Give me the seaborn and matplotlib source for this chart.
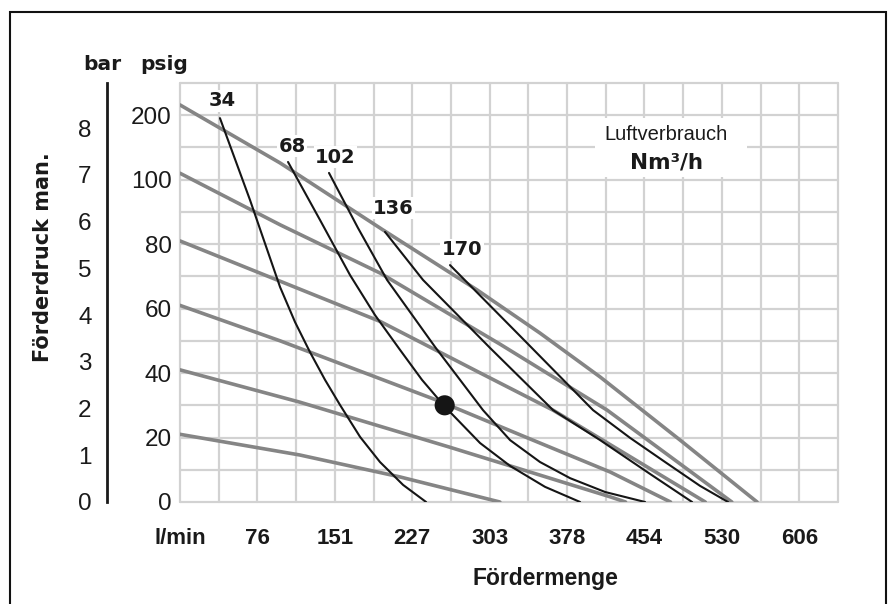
import matplotlib
matplotlib.use("Agg")
import matplotlib.pyplot as plt
import matplotlib.patches as mpatches
from matplotlib.ticker import FixedLocator
import seaborn as sns

# l/min per grid column, psi per grid row = 10
COL = 37.875
N_COLS = 17
N_ROWS = 13

x_tick_labels = ["l/min", "76", "151", "227", "303", "378", "454", "530", "606"]
psig_ticks = [0, 20, 40, 60, 80, 100, 120]
psig_labels = ["0", "20", "40", "60", "80", "100", "200"]
bar_ticks = [0, 1, 2, 3, 4, 5, 6, 7, 8]

# air inlet pressure curves (gray), x in l/min, y in psi
g120_x = [0, 97.9, 198.7, 290.7, 352.3, 411.1, 489.4, 564.7]
g120_y = [123.2, 105.2, 84.4, 65.8, 52.4, 38.8, 19.2, 0]
g100_x = [0, 98, 196, 313, 418, 540]
g100_y = [102, 86, 71, 49, 28.5, 0]
g80_x = [0, 98, 196, 294, 365, 514]
g80_y = [81, 68.5, 56, 40, 28.5, 0]
g60_x = [0, 98, 252, 343, 421, 480]
g60_y = [61, 50, 31.5, 19.5, 9.3, 0]
g40_x = [0, 117, 264, 421, 436]
g40_y = [41, 31, 17, 1.6, 0]
g20_x = [0, 117, 215, 313]
g20_y = [21, 14.6, 7.8, 0]

# air consumption curves (black), Nm3/h
b34_x = [39.1, 68.5, 97.9, 112.6, 127.2, 141.9, 156.6, 176.2, 195.7, 218.3, 240.8]
b34_y = [119.1, 93.7, 66.7, 55.8, 46.5, 37.9, 30.1, 20.2, 12.4, 5.3, 0]
b68_x = [105.7, 137.0, 166.4, 190.8, 215.3, 236.8, 259.4, 293.6, 323.0, 357.2, 391.5]
b68_y = [105.5, 87.5, 70.4, 58.0, 47.2, 37.9, 29.5, 18.3, 11.2, 4.7, 0]
b102_x = [145.8, 174.2, 202.6, 249.6, 296.5, 323.0, 352.3, 381.7, 416.0, 455.1]
b102_y = [102.1, 85.0, 68.9, 48.1, 28.5, 19.2, 12.4, 7.4, 3.1, 0]
b136_x = [200.6, 237.8, 303.4, 365.1, 411.1, 460.0, 501.1]
b136_y = [83.8, 68.9, 47.8, 28.5, 19.2, 8.7, 0]
b170_x = [264.2, 332.8, 404.2, 440.4, 474.7, 508.9, 536.3]
b170_y = [73.5, 51.5, 28.5, 19.9, 12.4, 5.0, 0]

curve_labels = ["34", "68", "102", "136", "170"]
label_x = [41, 110, 152, 209, 276]
label_y = [124.5, 110.4, 107, 91.2, 78.2]

point_x = [259]
point_y = [30]

sns.set_theme(style="white")
plt.rcParams["font.family"] = ["Liberation Sans", "DejaVu Sans"]
HEAVY = ["DejaVu Sans"]
INK = "#1a1a1a"

W, H = 888, 604
fig = plt.figure(figsize=(W / 100, H / 100), dpi=100)
ax = fig.add_axes([180 / W, 1 - 502 / H, 658 / W, 419 / H])

# grid (drawn unclipped so the outer lines keep full width)
for i in range(N_COLS + 1):
    ax.axvline(i * COL, color="#d2d2d2", lw=1.6, zorder=0, clip_on=False)
for j in range(N_ROWS + 1):
    ax.axhline(j * 10, color="#d2d2d2", lw=1.6, zorder=0, clip_on=False)

gray = "#858585"
for gx, gy in [(g120_x, g120_y), (g100_x, g100_y), (g80_x, g80_y),
               (g60_x, g60_y), (g40_x, g40_y), (g20_x, g20_y)]:
    sns.lineplot(x=gx, y=gy, ax=ax, color=gray, lw=2.6, sort=False,
                 estimator=None, zorder=3)
for bx, by in [(b34_x, b34_y), (b68_x, b68_y), (b102_x, b102_y),
               (b136_x, b136_y), (b170_x, b170_y)]:
    sns.lineplot(x=bx, y=by, ax=ax, color="#151515", lw=1.5, sort=False,
                 estimator=None, zorder=4)
sns.scatterplot(x=point_x, y=point_y, ax=ax, color="#151515", s=210,
                edgecolor="none", zorder=6)

for t, lx, ly in zip(curve_labels, label_x, label_y):
    ax.text(lx, ly, t, ha="center", va="center", fontsize=14, family=HEAVY,
            fontweight="bold", color=INK, zorder=7,
            bbox=dict(facecolor="white", edgecolor="none", pad=1.0))

# white box behind the air consumption caption
ax.add_patch(mpatches.Rectangle((415 / 658, (502 - 177) / 419), 152 / 658, 59 / 419,
                                transform=ax.transAxes, facecolor="white",
                                edgecolor="none", zorder=2))
ax.text(486 / 658, (502 - 134) / 419, "Luftverbrauch", transform=ax.transAxes,
        ha="center", va="center", fontsize=14.5, color=INK, zorder=7)
ax.text(486 / 658, (502 - 162) / 419, "Nm³/h", transform=ax.transAxes,
        ha="center", va="center", fontsize=15.5, fontweight="bold",
        family=HEAVY, color=INK, zorder=7)

ax.set_xlim(0, N_COLS * COL)
ax.set_ylim(0, N_ROWS * 10)
ax.xaxis.set_major_locator(FixedLocator([i * 2 * COL for i in range(9)]))
ax.set_xticklabels(x_tick_labels, fontsize=16, fontweight="bold", color=INK)
ax.yaxis.set_major_locator(FixedLocator(psig_ticks))
ax.set_yticklabels(psig_labels, fontsize=17.5, color=INK)
ax.tick_params(axis="both", which="both", length=0)
ax.tick_params(axis="x", pad=18.5)
ax.tick_params(axis="y", pad=6)
ax.grid(False)
for s in ax.spines.values():
    s.set_visible(False)
ax.set_xlabel("")
ax.set_ylabel("")

# bar scale on separate spine
bx_ax = fig.add_axes([107 / W, 1 - 502 / H, 0.0001, 419 / H])
bx_ax.set_ylim(0, N_ROWS * 10 / 14.5)
bx_ax.set_yticks(bar_ticks)
bx_ax.set_yticklabels([str(b) for b in bar_ticks], fontsize=17.5, color=INK)
bx_ax.set_xticks([])
bx_ax.tick_params(axis="y", length=7, width=1.8, color=INK, pad=4)
for k, s in bx_ax.spines.items():
    s.set_visible(k == "left")
bx_ax.spines["left"].set_linewidth(2)
bx_ax.spines["left"].set_color(INK)
bx_ax.patch.set_visible(False)

fig.text(102 / W, 1 - 64 / H, "bar", ha="center", va="center", fontsize=14.5,
         fontweight="bold", family=HEAVY, color=INK)
fig.text(164 / W, 1 - 64 / H, "psig", ha="center", va="center", fontsize=14.5,
         fontweight="bold", family=HEAVY, color=INK)
fig.text(43 / W, 1 - 257 / H, "Förderdruck man.", rotation=90, ha="center",
         va="center", fontsize=15, fontweight="bold", family=HEAVY, color=INK)
fig.text(545 / W, 1 - 578 / H, "Fördermenge", ha="center", va="center",
         fontsize=16.5, fontweight="bold", color=INK)

# outer frame
fig.patches.append(mpatches.Rectangle((10 / W, -0.05), 876 / W, 1 - 12 / H + 0.05,
                                      transform=fig.transFigure, fill=False,
                                      edgecolor="#111111", lw=1.5))

fig.savefig("out.png", dpi=100)
